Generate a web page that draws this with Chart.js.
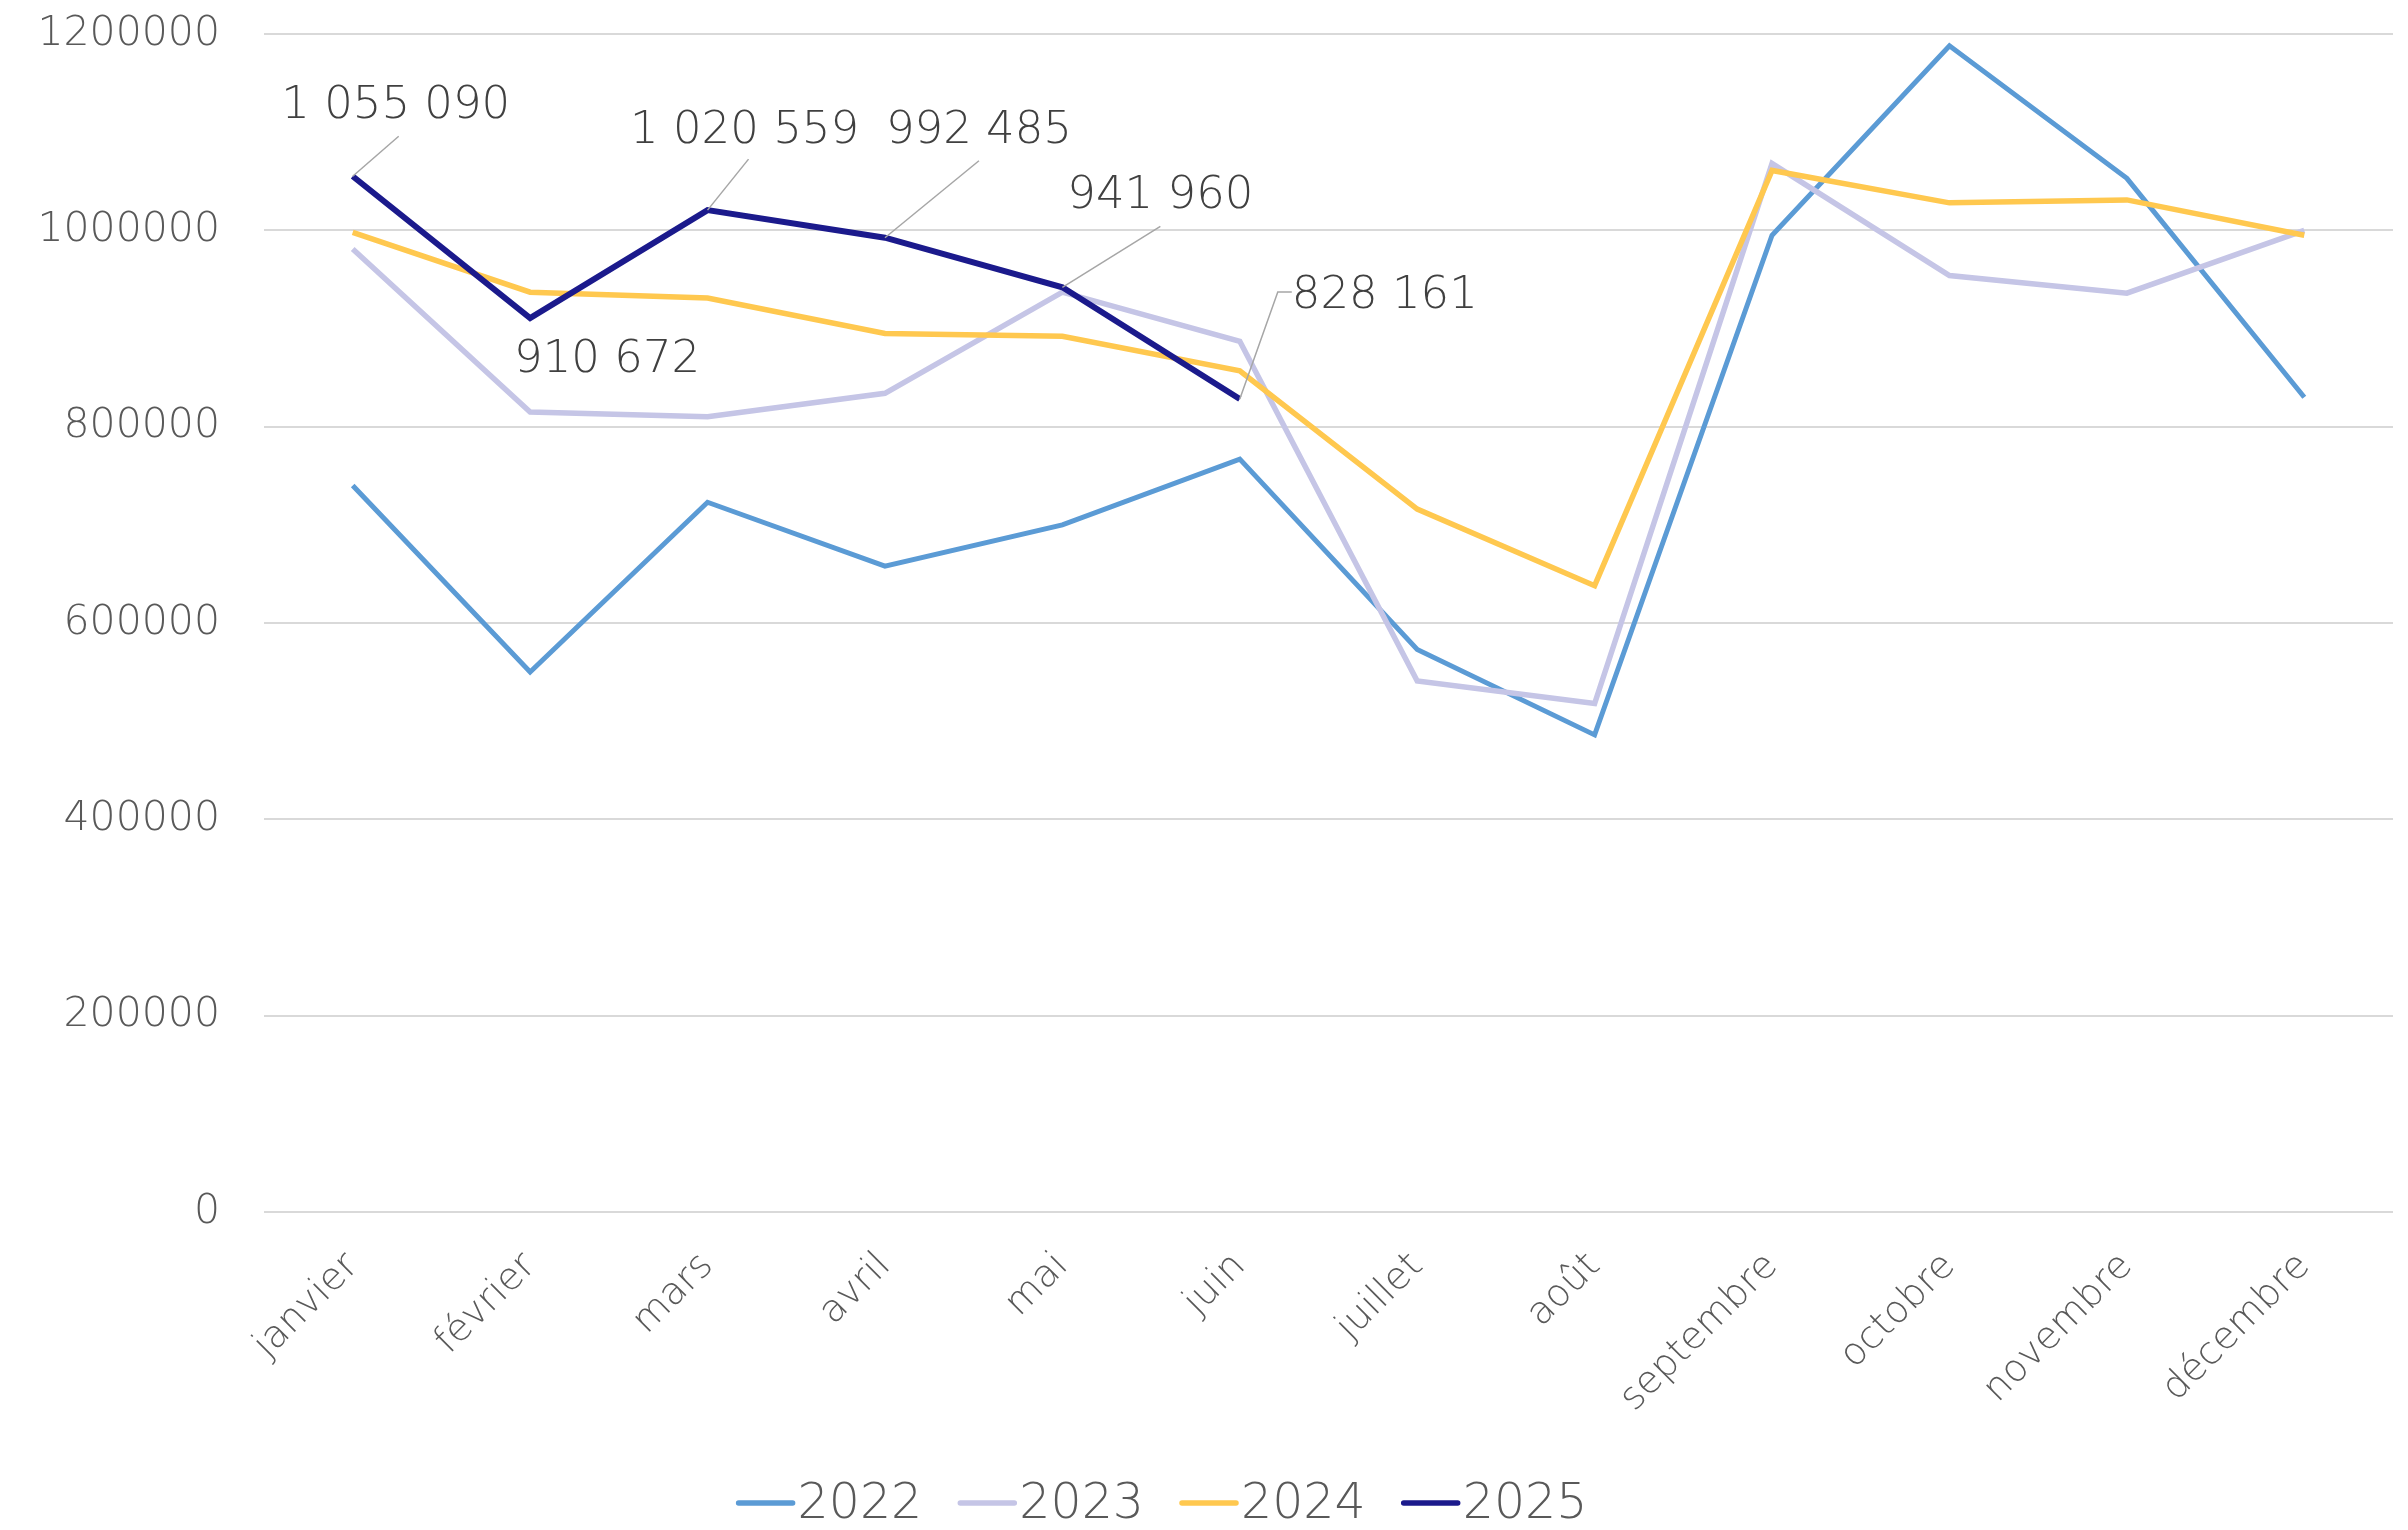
<!DOCTYPE html>
<html>
<head>
<meta charset="utf-8">
<script src="https://cdn.jsdelivr.net/npm/chart.js@4.4.1/dist/chart.umd.min.js"></script>
<style>
  html, body { margin: 0; padding: 0; background: #ffffff; }
  #wrap { width: 2408px; height: 1530px; position: relative; }
</style>
</head>
<body>
<div id="wrap"><canvas id="c" width="2408" height="1530"></canvas></div>
<script>
const months = ['janvier','février','mars','avril','mai','juin','juillet','août','septembre','octobre','novembre','décembre'];
const years = ['2022','2023','2024','2025'];
const values2022 = [740000, 550000, 723000, 658000, 700000, 767000, 573000, 486000, 995000, 1188000, 1053000, 830000];
const values2023 = [981000, 815000, 810000, 834000, 937000, 887000, 541000, 518000, 1068000, 954000, 936000, 1000000];
const values2024 = [998000, 937000, 931000, 895000, 892000, 857000, 716000, 638000, 1061000, 1028000, 1031000, 995000];
const values2025 = [1055090, 910672, 1020559, 992485, 941960, 828161];
const yTicks = [0, 200000, 400000, 600000, 800000, 1000000, 1200000];
const colors = ['#5B9BD5', '#C5C5E6', '#FFC84F', '#1B1A8C'];

const FONT = '"DejaVu Sans", Lato, sans-serif';
const W = '200';

function fmtFr(v) {
  return String(v).replace(/\B(?=(\d{3})+(?!\d))/g, ' ');
}

const labelLayout = [
  { dx: 43, dy: -70, leader: [[46, -40]] },
  { dx: 77, dy: 42, leader: [] },
  { dx: 37, dy: -79, leader: [[41, -51]] },
  { dx: 94, dy: -106, leader: [[94, -77]] },
  { dx: 98, dy: -91, leader: [[98, -61]] },
  { dx: 145, dy: -103, leader: [[38, -107], [52, -107]] }
];

const annotPlugin = {
  id: 'annot',
  afterDatasetsDraw(chart) {
    const ctx = chart.ctx;
    const meta = chart.getDatasetMeta(3);
    ctx.save();
    meta.data.forEach((pt, i) => {
      const L = labelLayout[i];
      if (!L) return;
      if (L.leader.length) {
        ctx.beginPath();
        ctx.moveTo(pt.x, pt.y);
        L.leader.forEach(p => ctx.lineTo(pt.x + p[0], pt.y + p[1]));
        ctx.strokeStyle = '#A6A6A6';
        ctx.lineWidth = 1.5;
        ctx.stroke();
      }
      ctx.font = W + ' 45px ' + FONT;
      ctx.fillStyle = '#404040';
      ctx.textAlign = 'center';
      ctx.textBaseline = 'middle';
      ctx.fillText(fmtFr(values2025[i]), pt.x + L.dx, pt.y + L.dy);
    });
    ctx.restore();
  }
};

const legendPlugin = {
  id: 'customLegend',
  afterDraw(chart) {
    const ctx = chart.ctx;
    ctx.save();
    ctx.font = W + ' 49px ' + FONT;
    ctx.textBaseline = 'middle';
    ctx.textAlign = 'left';
    const lineW = 54, gap = 5, itemGap = 38;
    const items = chart.data.datasets.map(d => ({ label: d.label, color: d.borderColor, w: ctx.measureText(d.label).width }));
    let total = 0;
    items.forEach((it, i) => { total += lineW + gap + it.w + (i < items.length - 1 ? itemGap : 0); });
    let x = 1163 - total / 2;
    const y = 1503;
    items.forEach(it => {
      ctx.beginPath();
      ctx.moveTo(x, y);
      ctx.lineTo(x + lineW, y);
      ctx.strokeStyle = it.color;
      ctx.lineWidth = 5.5;
      ctx.lineCap = 'round';
      ctx.stroke();
      x += lineW + gap;
      ctx.fillStyle = '#595959';
      ctx.fillText(it.label, x, y + 2);
      x += it.w + itemGap;
    });
    ctx.restore();
  }
};

function zeroPad(scale) {
  scale.paddingTop = 0; scale.paddingBottom = 0;
  scale.paddingLeft = 0; scale.paddingRight = 0;
}

const seriesValues = [values2022, values2023, values2024, values2025];
const widths = [5, 5.5, 5.5, 6];

new Chart(document.getElementById('c'), {
  type: 'line',
  data: {
    labels: months,
    datasets: years.map((y, i) => ({
      label: y,
      data: seriesValues[i],
      borderColor: colors[i],
      backgroundColor: colors[i],
      borderWidth: widths[i],
      pointRadius: 0,
      tension: 0,
      fill: false,
      order: 4 - i
    }))
  },
  options: {
    responsive: false,
    animation: false,
    devicePixelRatio: 1,
    layout: { padding: { top: 34, right: 15, left: 0, bottom: 0 } },
    plugins: {
      legend: { display: false },
      tooltip: { enabled: false }
    },
    scales: {
      x: {
        offset: true,
        grid: { display: false, drawTicks: false },
        border: { display: false },
        ticks: {
          autoSkip: false,
          minRotation: 45,
          maxRotation: 45,
          padding: 32,
          color: '#595959',
          font: { family: FONT, size: 38, weight: W }
        },
        afterFit(scale) { scale.height = 318; zeroPad(scale); }
      },
      y: {
        min: 0,
        max: 1200000,
        afterBuildTicks(scale) { scale.ticks = yTicks.map(v => ({ value: v })); },
        grid: { color: '#D9D9D9', lineWidth: 2, drawTicks: false },
        border: { display: false },
        ticks: {
          padding: 44,
          color: '#595959',
          font: { family: FONT, size: 41, weight: W },
          callback: v => String(v)
        },
        afterFit(scale) { scale.width = 264; zeroPad(scale); }
      }
    }
  },
  plugins: [annotPlugin, legendPlugin]
});
</script>
</body>
</html>
